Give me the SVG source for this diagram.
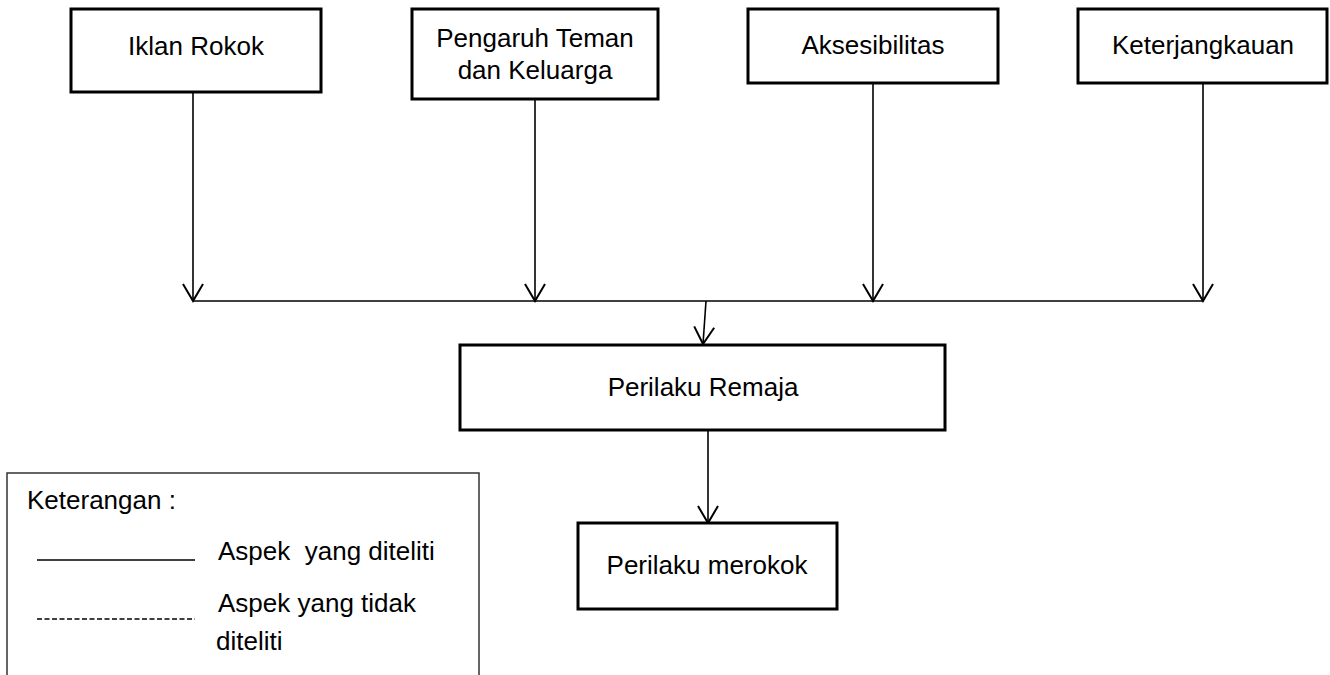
<svg xmlns="http://www.w3.org/2000/svg" width="1330" height="675" viewBox="0 0 1330 675">
<style>
.box{fill:#fff;stroke:#000;stroke-width:3}
.t{font-family:"Liberation Sans",Arial,sans-serif;font-size:26px;fill:#000;text-anchor:middle}
.tl{font-family:"Liberation Sans",Arial,sans-serif;font-size:26px;fill:#000;white-space:pre}
.c{fill:none;stroke:#000;stroke-width:1.6}
</style>
<defs>
<marker id="ah" viewBox="-1 -1 20 24" refX="17" refY="10" markerWidth="20" markerHeight="24" markerUnits="userSpaceOnUse" orient="auto" overflow="visible">
<path d="M0,0 L17,10 L0,20" fill="none" stroke="#000" stroke-width="2"/>
</marker>
</defs>
<rect width="1330" height="675" fill="#fff"/>
<g id="connectors">
<line class="c" x1="193" y1="92" x2="193" y2="301" marker-end="url(#ah)"/>
<line class="c" x1="535" y1="99" x2="535" y2="301" marker-end="url(#ah)"/>
<line class="c" x1="873" y1="83" x2="873" y2="301" marker-end="url(#ah)"/>
<line class="c" x1="1203" y1="83" x2="1203" y2="301" marker-end="url(#ah)"/>
<line class="c" x1="193" y1="301" x2="1203" y2="301"/>
<line class="c" x1="706" y1="301" x2="703" y2="344" marker-end="url(#ah)"/>
<line class="c" x1="708" y1="430" x2="708" y2="523" marker-end="url(#ah)"/>
</g>
<g id="iklan">
<rect class="box" x="71" y="9" width="250" height="83"/>
<text class="t" x="196" y="55">Iklan Rokok</text>
</g>
<g id="pengaruh">
<rect class="box" x="412" y="9" width="246" height="90"/>
<text class="t" x="535" y="47">Pengaruh Teman</text>
<text class="t" x="535" y="79">dan Keluarga</text>
</g>
<g id="aksesibilitas">
<rect class="box" x="748" y="9" width="250" height="74"/>
<text class="t" x="873" y="54">Aksesibilitas</text>
</g>
<g id="keterjangkauan">
<rect class="box" x="1078" y="9" width="249" height="74"/>
<text class="t" x="1203" y="54">Keterjangkauan</text>
</g>
<g id="remaja">
<rect class="box" x="460" y="345" width="485" height="85"/>
<text class="t" x="703" y="396">Perilaku Remaja</text>
</g>
<g id="merokok">
<rect class="box" x="578" y="523" width="259" height="86"/>
<text class="t" x="707" y="574">Perilaku merokok</text>
</g>
<g id="legend">
<path d="M7,700 V473 H479 V700" fill="none" stroke="#333" stroke-width="1.5"/>
<text class="tl" x="27" y="509">Keterangan :</text>
<line x1="37" y1="560" x2="195" y2="560" stroke="#000" stroke-width="1.5"/>
<text class="tl" x="218" y="560">Aspek  yang diteliti</text>
<line x1="37" y1="619" x2="195" y2="619" stroke="#000" stroke-width="1.5" stroke-dasharray="5,2.5"/>
<text class="tl" x="218" y="612">Aspek yang tidak</text>
<text class="tl" x="216" y="650">diteliti</text>
</g>
</svg>
